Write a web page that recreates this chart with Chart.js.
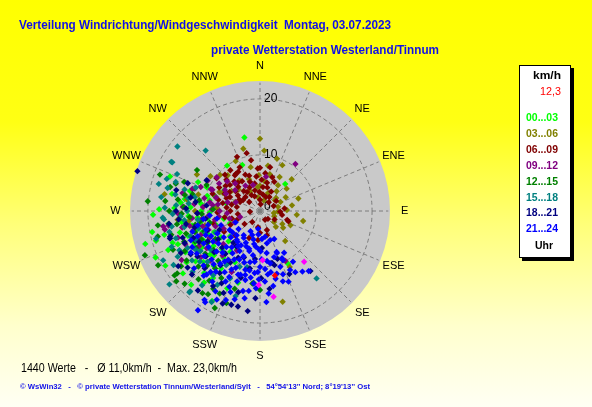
<!DOCTYPE html>
<html>
<head>
<meta charset="utf-8">
<script src="https://cdn.jsdelivr.net/npm/chart.js@4.4.0/dist/chart.umd.min.js"></script>
<style>
html, body { margin: 0; padding: 0; background: #ffff00; }
canvas { display: block; }
</style>
</head>
<body>
<canvas id="windChart" width="592" height="407"></canvas>
<script>
// [Richtung in Grad, Geschwindigkeit in km/h], je 3-Stunden-Block
const werte0003 = [[348,13.4],[324,10.0],[339,8.8],[43,6.6],[295,12.2],[294,10.4],[291,17.2],[268,19.1],[254,21.3],[254,19.3],[247,17.8],[248,15.8],[255,14.8],[279,13.6],[286,9.8],[240,19.5],[231,17.7],[223,18.0],[218,16.2],[215,14.6],[203,15.0],[197,13.4],[208,18.2],[152,10.7],[262,16.5],[258,12.4],[250,11.0],[244,13.0],[238,12.2],[233,10.4],[228,13.6],[225,9.6],[236,8.4],[245,9.0],[252,8.2],[262,9.4],[270,10.5],[275,8.0],[266,12.8],[241,15.2],[229,11.8],[220,12.8],[212,11.0],[216,9.0],[206,10.2],[230,7.0],[258,6.6],[283,6.2],[300,7.4],[248,5.8],[222,14.9],[235,16.0],[256,17.6],[262,14.1],[272,15.3],
    [214,12.4],[218,10.6],[226,11.4],[232,14.6],[239,10.8],[243,11.4],[247,10.2],[251,13.6],[254,11.6],[259,10.8],[264,11.2],[268,9.0],[273,12.4],[277,10.6],[282,9.2],[288,8.4],[226,7.8],[211,8.0],[237,13.0],[250,16.6],
    [276,14.2],[281,16.0],[286,13.0],[271,18.0],[259,19.6],[246,20.4]];
const werte0306 = [[0,12.9],[4,10.8],[26,9.1],[334,9.9],[341,6.0],[355,4.3],[295,8.0],[280,17.3],[331,3.7],[352,2.5],[54,3.3],[110,2.7],[126,5.1],[77,3.3],[51,3.7],[24,3.5],[333,4.0],[0,4.5],[290,4.7],[296,7.4],[279,13.2],[274,7.7],[103,7.9],[128,3.2],[98,2.5],[166,16.7],[152,11.3],[264,14.8],[15,6.8],[35,5.6],[62,5.2],[88,4.8],[115,6.0],[140,7.0],[10,8.2],[345,11.5],[318,8.6],[305,10.8],[72,7.2],[45,8.0],[20,2.0],[315,5.4],[300,13.0],[270,11.6],[255,10.2],[240,12.4],[96,6.6],[135,4.0],
    [8,5.4],[18,9.8],[30,7.0],[40,4.6],[50,6.2],[66,4.0],[80,5.8],[92,3.2],[120,4.6],[305,6.2],[312,9.6],[326,6.6],[348,8.0],[358,6.4],[285,11.4],[262,12.8]];
const werte0609 = [[347,10.6],[337,10.5],[13,8.0],[0,7.7],[357,7.6],[325,7.8],[307,9.7],[316,9.0],[327,7.9],[311,7.1],[322,6.4],[341,5.5],[14,5.2],[7,4.3],[326,4.1],[23,2.7],[282,6.8],[294,3.9],[318,5.8],[92,3.6],[108,5.1],[110,5.4],[0,2.0],[303,3.6],[295,5.9],[285,7.7],[260,6.4],[249,4.4],[266,1.8],[150,1.8],[187,2.9],[202,5.2],[184,5.2],[160,3.6],[180,3.9],[164,4.5],[30,4.0],[45,2.2],[70,2.6],[5,1.2],[340,2.8],[310,2.5],[280,4.2],[270,5.3],[300,8.4],[335,8.6],[350,9.2],[20,6.4],[120,3.0],[135,2.0],[230,3.6],[215,2.4],[290,9.0],[305,4.8],[332,3.2],[10,3.0],[225,6.2],[240,7.4],[255,8.6],
    [283,5.2],[287,8.2],[291,6.4],[296,7.0],[299,4.2],[302,6.4],[306,7.6],[309,5.6],[313,8.2],[314,3.6],[319,7.0],[321,4.6],[324,9.0],[329,6.2],[331,8.0],[336,4.6],[338,7.0],[343,6.6],[346,3.8],[349,5.0],[354,6.2],[358,3.4],[3,5.6],[8,6.8],[17,4.4],[26,5.8],[34,3.0],[58,3.4],[84,4.4],[100,4.0],[268,7.6],[276,6.0],[262,4.0],[255,5.2],[245,5.8]];
const werte0912 = [[37,10.5],[153,10.0],[259,17.3],[288,12.7],[289,12.3],[294,9.3],[277,8.5],[264,12.2],[274,10.2],[258,14.2],[266,5.9],[259,8.2],[247,12.0],[253,3.7],[294,9.6],[273,13.8],[308,9.8],[312,7.9],[280,9.1],[254,12.4],[246,14.6],[238,16.5],[213,10.5],[261,17.5],[261,16.5],[301,7.3],[285,6.0],[270,7.2],[262,10.5],[250,9.8],[242,10.2],[235,11.6],[228,8.8],[220,10.4],[244,7.2],[256,5.6],[300,10.8],[318,6.6],[330,5.2],[290,4.6],[276,11.8],[268,14.6],[252,15.4],[232,13.4],[225,12.6],[210,8.2],[205,12.0],[345,4.8],[10,6.2],
    [240,12.6],[248,11.4],[251,8.4],[255,10.6],[258,12.8],[262,7.4],[265,9.2],[268,11.2],[272,8.6],[279,7.6],[283,10.2],[287,8.2],[292,11.4],[297,6.8],[304,8.8],[310,5.8],[236,9.6],[230,11.0],[246,5.0],[283,14.2]];
const werte1215 = [[303,13.4],[275,20.1],[276,17.0],[282,13.7],[291,14.5],[268,14.0],[260,10.9],[249,22.0],[242,20.6],[233,18.5],[211,16.2],[200,17.5],[185,12.9],[180,14.1],[233,19.1],[230,19.5],[226,18.7],[215,17.9],[212,17.5],[205,19.1],[186,13.0],[285,16.6],[270,16.2],[262,18.4],[255,16.4],[248,14.6],[240,13.2],[236,15.8],[228,14.8],[222,16.4],[218,13.0],[252,12.2],[244,11.6],[265,12.6],[280,11.0],[296,10.6],[230,10.8],[238,9.4],[257,9.2],[220,11.6],[210,13.8],[198,14.6],[272,8.4],[290,19.0],[246,17.0],
    [232,12.4],[235,17.2],[239,11.0],[242,15.2],[245,12.8],[250,10.6],[253,13.8],[258,11.8],[261,15.0],[267,10.4],[273,13.6],[278,14.8],[284,12.4],[288,15.8],[224,13.6],[216,15.4],[206,16.4],[256,18.8]];
const werte1518 = [[308,18.7],[318,14.5],[299,18.1],[285,18.7],[140,15.7],[299,17.9],[289,15.9],[265,17.2],[282,11.9],[248,17.0],[289,17.6],[266,17.4],[243,19.4],[241,16.8],[221,19.2],[208,18.4],[196,15.8],[193,10.3],[231,20.8],[221,19.0],[243,14.5],[274,15.0],[258,13.8],[252,15.8],[236,12.8],[228,16.2],[216,14.2],[204,13.2],[262,11.2],[248,10.4],[232,11.2],[222,9.8],[270,13.0],[278,17.8],[255,19.2],[238,18.2],[212,11.4],[200,10.6],[244,8.8],[260,16.0],
    [230,14.0],[234,15.0],[239,13.4],[246,12.6],[250,13.2],[254,11.4],[257,16.6],[263,13.6],[268,15.6],[272,17.0],[276,12.8],[281,15.4],[286,14.0],[294,16.2],[226,13.0],[218,16.8],[210,15.2],
    [280,13.0],[284,17.0],[290,12.2],[266,14.2],[244,16.0]];
const werte1821 = [[288,23.0],[291,13.8],[284,15.4],[253,16.8],[187,18.0],[193,17.5],[202,17.8],[218,18.0],[204,16.0],[197,17.5],[140,14.0],[173,14.0],[179,12.0],[186,8.6],[167,9.5],[160,9.1],[177,6.6],[165,10.0],[254,16.7],[238,14.6],[230,12.6],[224,14.2],[216,12.0],[210,10.6],[226,9.4],[240,10.8],[248,12.8],[260,13.4],[268,11.2],[276,9.6],[300,11.0],[232,16.4],[208,14.6],[196,12.4],[190,10.4],[220,7.4],[245,8.0],[264,14.6],[212,15.8],[155,12.4],
    [205,9.2],[213,13.2],[219,9.8],[228,11.0],[234,13.8],[236,9.0],[243,12.2],[250,10.0],[251,14.6],[256,12.0],[262,9.8],[272,13.2],[281,12.6],[214,7.6],[199,8.8],[195,15.0],[183,15.6],[227,16.6],[242,16.0],
    [262,16.4],[270,15.0],[278,11.6],[247,14.6],[236,17.6]];
const werte2124 = [[176,16.3],[141,13.8],[173,11.4],[165,11.6],[169,9.5],[155,9.7],[158,8.1],[153,5.6],[168,5.9],[169,4.7],[185,11.1],[191,9.3],[200,15.4],[206,17.6],[211,19.0],[193,11.7],[197,11.9],[206,14.0],[221,15.3],[198,4.5],[161,5.5],[158,7.9],[171,7.6],[186,9.1],[182,10.9],[170,11.1],[160,10.6],[153,11.8],[145,13.2],[155,9.3],[242,13.7],[212,18.7],[212,20.9],[190,6.0],[195,7.4],[200,8.6],[204,6.2],[208,9.8],[212,7.4],[215,11.0],[218,8.2],[222,10.0],[225,12.2],[228,7.0],[232,9.4],[235,11.2],[238,6.4],[242,8.6],[246,10.6],[250,7.4],[255,9.6],[260,7.8],[216,13.4],[210,12.6],[203,11.0],[198,13.2],[192,12.6],[188,14.4],[224,6.0],[230,5.0],[236,13.6],[248,12.0],[214,5.2],[205,4.0],[182,6.8],[178,8.6],[176,5.0],[220,14.8],[229,15.6],[196,16.4],[186,3.2],[245,4.8],[262,10.2],[170,13.6],[150,12.6],[162,13.2],[147,10.8],
    [184,4.2],[189,8.0],[193,5.2],[197,9.6],[201,6.8],[205,13.0],[207,8.0],[211,5.6],[213,9.0],[217,11.8],[219,6.6],[221,12.6],[223,8.8],[227,10.6],[231,12.8],[234,8.0],[237,10.0],[240,11.6],[243,9.8],[247,13.4],[251,10.2],[253,12.6],[226,14.0],[214,15.2],[202,14.6],[194,10.8],[188,12.0],[180,10.0],[176,12.6],[183,13.8],[209,16.4],[232,6.2],[239,14.4],[257,11.4],[265,9.0],
    [172,9.0],[175,10.4],[179,7.2],[181,12.2],[185,13.0],[187,6.4],[190,10.8],[192,14.6],[196,7.0],[199,12.0],[203,9.4],[206,11.6],[209,7.0],[213,10.4],[216,6.8],[219,14.0],[163,8.6],[167,12.4],[174,14.8],[160,12.0],[150,8.6],[158,13.6],[190,15.8],[201,17.0]];
const werteLetzte = [[139,12.0],[181,13.2],[171,15.5],[177,8.8]];
const werteAktuell = [[167,11.8]];

const zeitraeume = ['00...03', '03...06', '06...09', '09...12', '12...15', '15...18', '18...21', '21...24'];
const richtungen = ['N', 'NNE', 'NE', 'ENE', 'E', 'ESE', 'SE', 'SSE', 'S', 'SSW', 'SW', 'WSW', 'W', 'WNW', 'NW', 'NNW'];
const ringWerte = [0, 10, 20];
const aktuellerWert = '12,3';
const statistik = '1440 Werte   -   \u00D8 11,0km/h  -  Max. 23,0km/h';
const titel = 'Verteilung Windrichtung/Windgeschwindigkeit  Montag, 03.07.2023';
const untertitel = 'private Wetterstation Westerland/Tinnum';
const fusszeile = '\u00A9 WsWin32   -   \u00A9 private Wetterstation Tinnum/Westerland/Sylt   -   54\u00B054\'13\'\' Nord; 8\u00B019\'13\'\' Ost';

const farben = ['#00ff00', '#808000', '#800000', '#800080', '#008000', '#008080', '#000080', '#0000ff'];
const maxR = 23.2;

function toXY(werte) {
    return werte.map(([dir, v]) => {
        const rad = dir * Math.PI / 180;
        return { x: v * Math.sin(rad), y: v * Math.cos(rad) };
    });
}

// text squeezed / stretched to the width
function fitText(ctx, text, x, y, width) {
    const w = ctx.measureText(text).width;
    ctx.save();
    ctx.translate(x, y);
    ctx.scale(width / w, 1);
    ctx.fillText(text, 0, 0);
    ctx.restore();
}

const gruppen = [werte0003, werte0306, werte0609, werte0912, werte1215, werte1518, werte1821, werte2124];
const datasets = gruppen.map((werte, i) => ({
    label: zeitraeume[i],
    data: toXY(werte),
    backgroundColor: farben[i],
    order: 10 - i
}));
datasets.push({ label: 'letzte', data: toXY(werteLetzte), backgroundColor: '#ff00ff', order: 1 });
datasets.push({ label: 'aktuell', data: toXY(werteAktuell), backgroundColor: '#ff0000', order: 0 });

const polarPlugin = {
    id: 'polar',
    beforeDraw(chart) {
        const ctx = chart.ctx;
        const g = ctx.createLinearGradient(0, 0, 0, chart.height);
        g.addColorStop(0, '#ffff00');
        g.addColorStop(0.3, '#ffff14');
        g.addColorStop(0.55, '#ffff78');
        g.addColorStop(0.8, '#ffffcc');
        g.addColorStop(1, '#fffff4');
        ctx.save();
        ctx.fillStyle = g;
        ctx.fillRect(0, 0, chart.width, chart.height);
        ctx.restore();
    },
    beforeDatasetsDraw(chart) {
        const ctx = chart.ctx;
        const xs = chart.scales.x, ys = chart.scales.y;
        const cx = xs.getPixelForValue(0), cy = ys.getPixelForValue(0);
        const rPix = v => xs.getPixelForValue(v) - cx;
        const at = (deg, v) => {
            const rad = deg * Math.PI / 180;
            return [xs.getPixelForValue(v * Math.sin(rad)), ys.getPixelForValue(v * Math.cos(rad))];
        };
        ctx.save();
        // disk
        ctx.beginPath();
        ctx.arc(cx, cy, rPix(maxR), 0, Math.PI * 2);
        ctx.fillStyle = '#c9c9c9';
        ctx.fill();
        // rings + spokes
        ctx.setLineDash([4, 3]);
        ctx.strokeStyle = '#7c7c7c';
        ctx.lineWidth = 1;
        ringWerte.filter(v => v > 0).forEach(v => {
            ctx.beginPath();
            ctx.arc(cx, cy, rPix(v), 0, Math.PI * 2);
            ctx.stroke();
        });
        richtungen.forEach((r, i) => {
            const [x, y] = at(i * 22.5, maxR - 0.3);
            ctx.beginPath();
            ctx.moveTo(cx, cy);
            ctx.lineTo(x, y);
            ctx.stroke();
        });
        ctx.setLineDash([]);
        // ring values
        ctx.fillStyle = '#000';
        ctx.font = '12px "Liberation Sans", Arial, sans-serif';
        ctx.textAlign = 'left';
        ctx.textBaseline = 'middle';
        ringWerte.forEach(v => {
            ctx.fillText(String(v), cx + 4, v > 0 ? cy - rPix(v) : cy - 4);
        });
        // direction labels
        ctx.font = '11px "Liberation Sans", Arial, sans-serif';
        ctx.textAlign = 'center';
        richtungen.forEach((r, i) => {
            const [x, y] = at(i * 22.5, maxR + 2.6);
            ctx.fillText(r, x, y);
        });
        ctx.restore();
    },
    afterDraw(chart) {
        const ctx = chart.ctx;
        ctx.save();
        ctx.textAlign = 'left';
        ctx.textBaseline = 'alphabetic';
        ctx.fillStyle = '#1010e8';
        ctx.font = 'bold 13px "Liberation Sans", Arial, sans-serif';
        fitText(ctx, titel, 19, 29, 372);
        fitText(ctx, untertitel, 211, 54, 228);

        // legend box
        ctx.fillStyle = '#000';
        ctx.fillRect(522, 68, 52, 193);
        ctx.fillStyle = '#fff';
        ctx.fillRect(519, 65, 52, 193);
        ctx.strokeStyle = '#000';
        ctx.lineWidth = 1;
        ctx.strokeRect(519.5, 65.5, 51, 192);

        ctx.fillStyle = '#000';
        ctx.font = 'bold 11px "Liberation Sans", Arial, sans-serif';
        fitText(ctx, 'km/h', 533, 79, 28);
        ctx.fillStyle = '#ff0000';
        ctx.font = '11px "Liberation Sans", Arial, sans-serif';
        fitText(ctx, aktuellerWert, 540, 95, 21);
        ctx.font = 'bold 11px "Liberation Sans", Arial, sans-serif';
        zeitraeume.forEach((z, i) => {
            ctx.fillStyle = farben[i];
            fitText(ctx, z, 526, 121 + i * 15.9, 32);
        });
        ctx.fillStyle = '#000';
        fitText(ctx, 'Uhr', 535, 249, 18);

        // footer
        ctx.font = '12px "Liberation Sans", Arial, sans-serif';
        fitText(ctx, statistik, 21, 372, 216);
        ctx.fillStyle = '#1010e8';
        ctx.font = 'bold 8px "Liberation Sans", Arial, sans-serif';
        fitText(ctx, fusszeile, 20, 389, 350);
        ctx.restore();
    }
};

const ctx = document.getElementById('windChart').getContext('2d');
const windChart = new Chart(ctx, {
    type: 'scatter',
    data: { datasets: datasets },
    options: {
        responsive: false,
        animation: false,
        events: [],
        layout: { padding: { left: 130, right: 202, top: 81, bottom: 66 } },
        elements: {
            point: { pointStyle: 'rectRot', radius: 3.2, borderWidth: 0 }
        },
        scales: {
            x: { display: false, min: -maxR, max: maxR },
            y: { display: false, min: -maxR, max: maxR }
        },
        plugins: {
            legend: { display: false },
            tooltip: { enabled: false }
        }
    },
    plugins: [polarPlugin]
});
</script>
</body>
</html>
